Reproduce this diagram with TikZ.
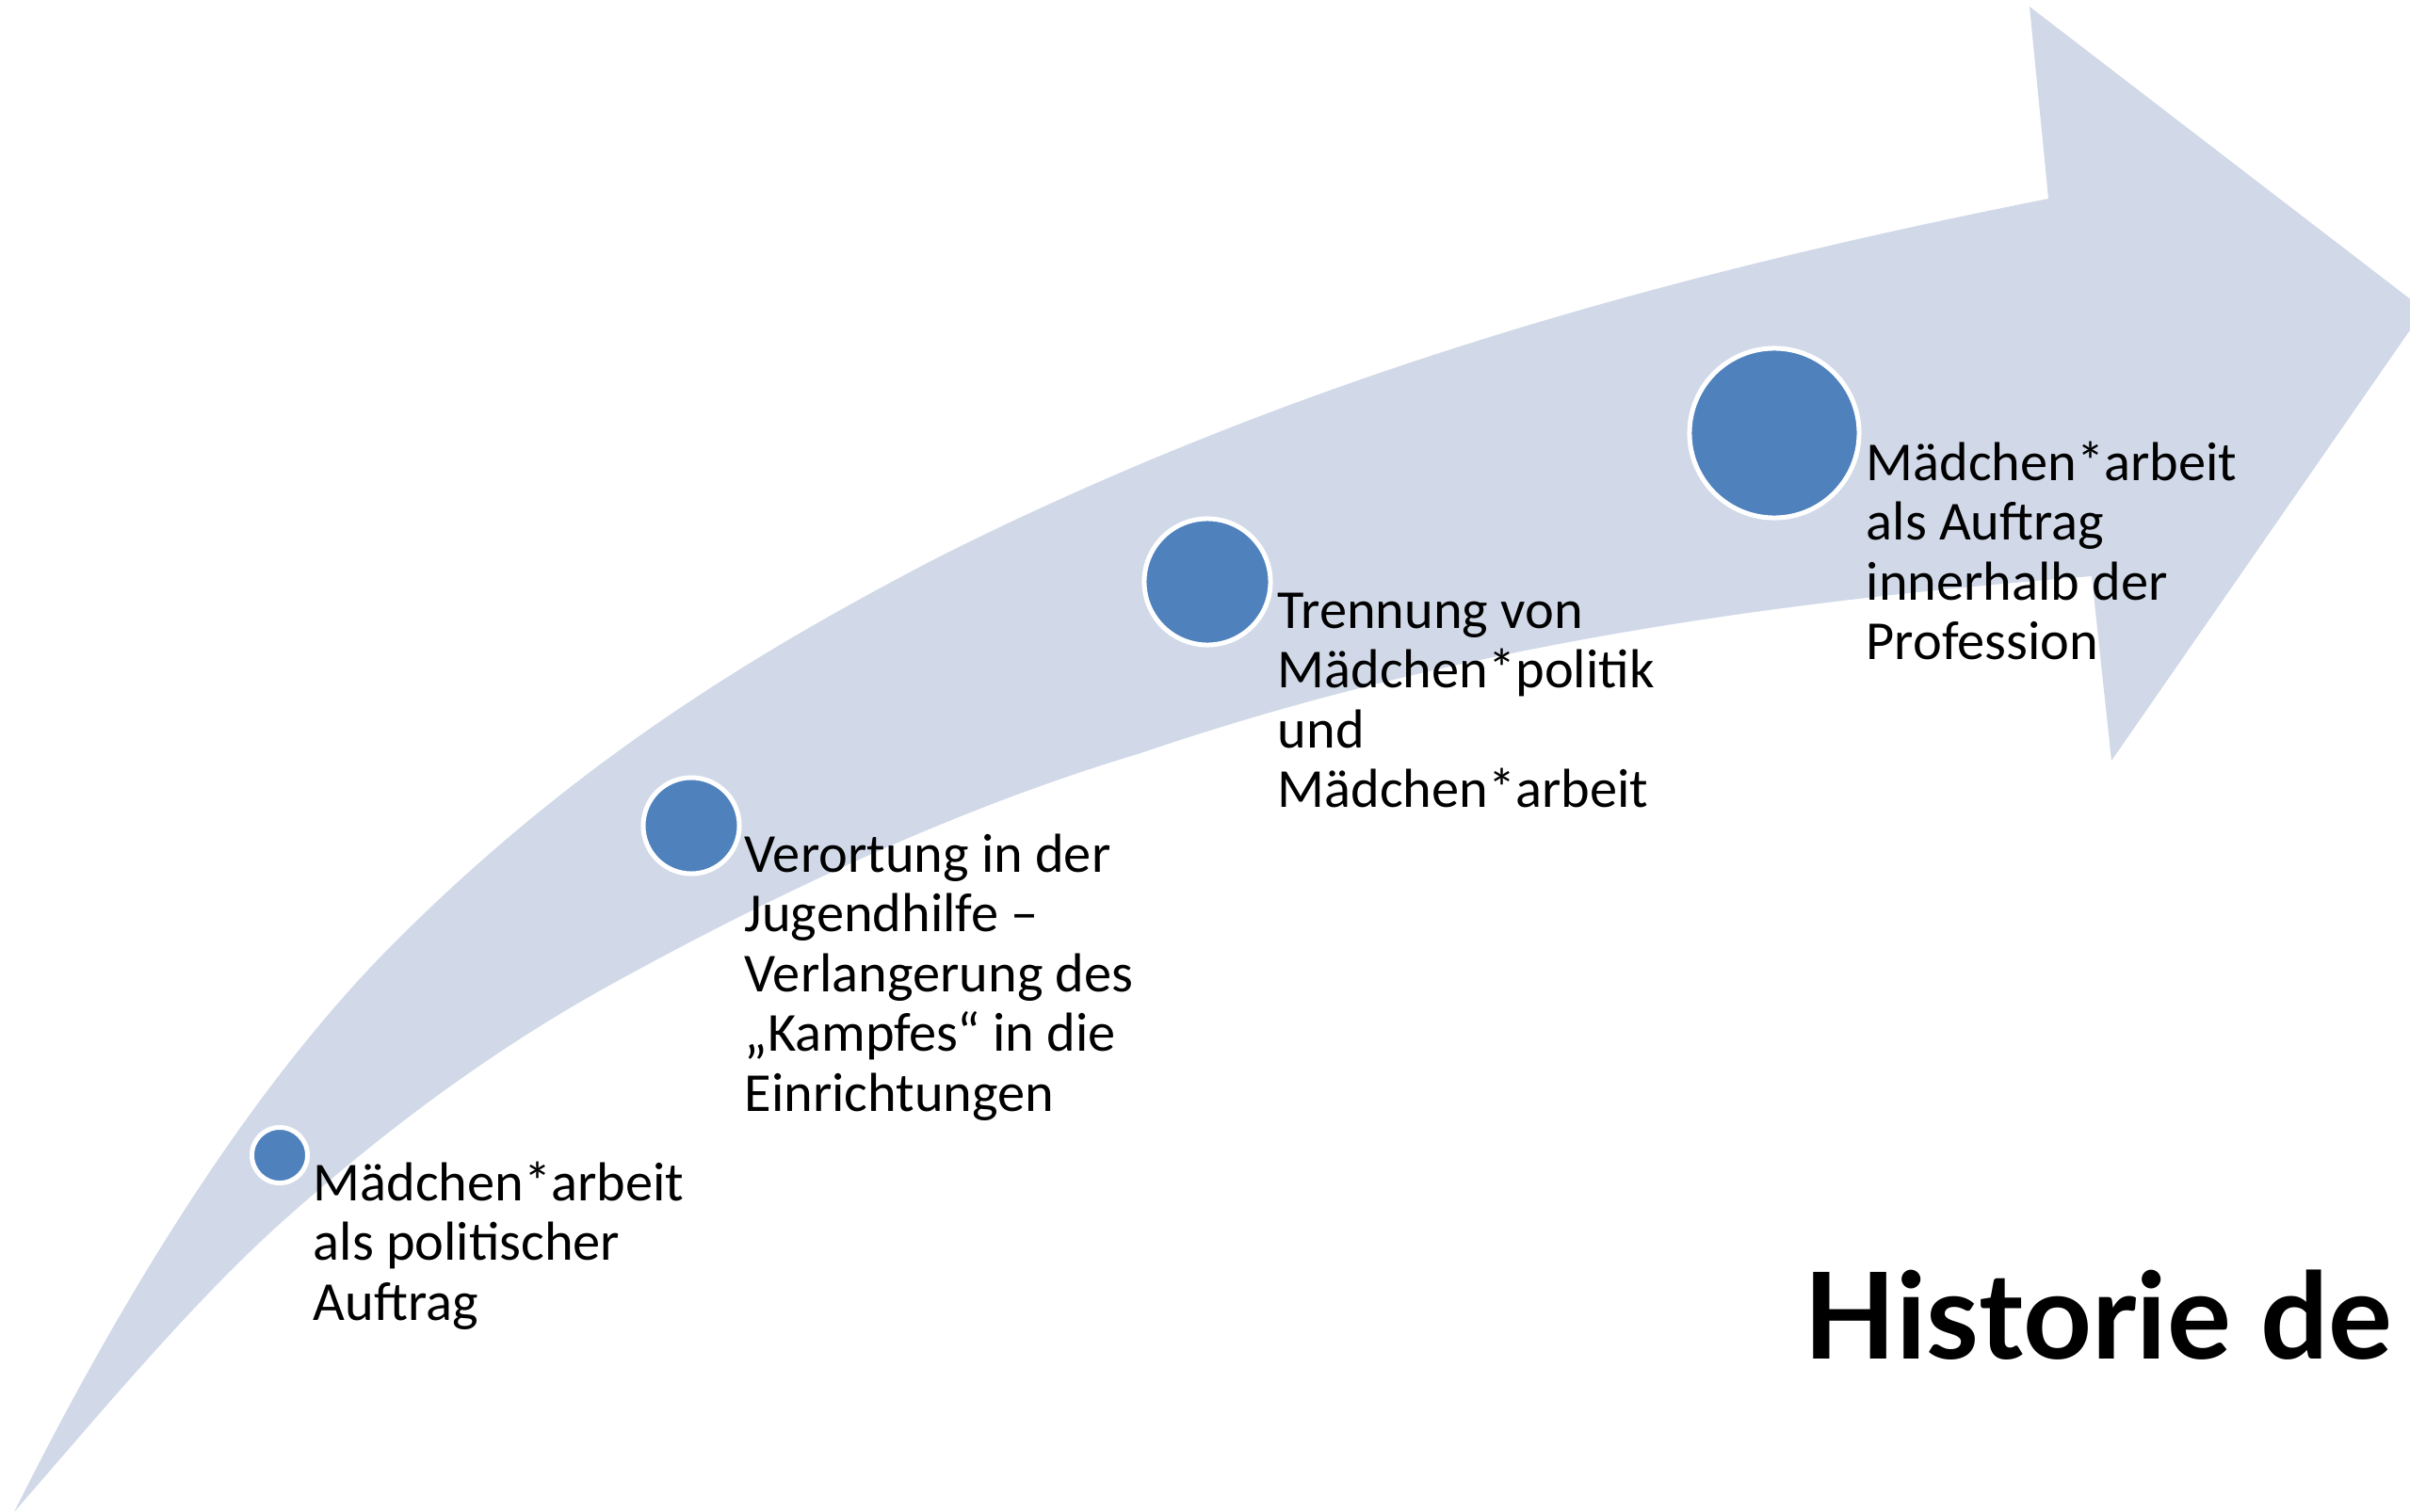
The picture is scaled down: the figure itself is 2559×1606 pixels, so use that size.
\documentclass[tikz,border=0pt]{standalone}
\usepackage{fontspec}
\setmainfont{Carlito}
\newfontfamily\titlefont{Lato}
\definecolor{band}{RGB}{209,217,232}
\definecolor{dot}{RGB}{79,129,189}
\begin{document}
\begin{tikzpicture}[x=0.01cm,y=-0.01cm,
  dotnode/.style={circle, fill=dot, draw=white, line width=1.42pt, inner sep=0pt},
  lbl/.style={anchor=base west, inner sep=0pt, font=\fontsize{16.6pt}{18.07pt}\selectfont}]
\useasboundingbox (0,0) rectangle (2559,1606);
\clip (0,0) rectangle (2559,1606);
% outer edge: tail -> notch upper
\coordinate (tail) at (15,1606);
\coordinate (ob) at (420,1000);
\coordinate (oc) at (1000,590);
\coordinate (nup) at (2175,211);
\coordinate (barbup) at (2155,7);
\coordinate (tip) at (2574,329);
\coordinate (barblow) at (2242,808);
\coordinate (nlow) at (2221,612);
\coordinate (ie) at (1211,800);
\coordinate (if) at (650,1045);
\coordinate (ig) at (297,1300);
\fill[band] (tail) .. controls (150,1336) and (285,1135) .. (ob)
  .. controls (613,807) and (807,690) .. (oc)
  .. controls (1392,394) and (1783,289) .. (nup)
  -- (barbup) -- (tip) -- (barblow) -- (nlow)
  .. controls (1884,639) and (1548,685) .. (ie)
  .. controls (1024,856) and (837,942) .. (if)
  .. controls (532,1110) and (415,1194) .. (ig)
  .. controls (203,1385) and (109,1498) .. (tail) -- cycle;
\node[dotnode, minimum size=0.59cm] (c1) at (297,1227) {};
\node[dotnode, minimum size=1.02cm] (c2) at (734,877) {};
\node[dotnode, minimum size=1.34cm] (c3) at (1282,618) {};
\node[dotnode, minimum size=1.80cm] (c4) at (1884,460) {};
\node[lbl] (t1) at (332,1275) {\vtop{\lineskiplimit=-100pt\hbox{Mädchen*arbeit}\hbox{als politischer}\hbox{Auftrag}}};
\node[lbl] (t2) at (790,926) {\vtop{\lineskiplimit=-100pt\hbox{Verortung in der}\hbox{Jugendhilfe –}\hbox{Verlangerung des}\hbox{„Kampfes“ in die}\hbox{Einrichtungen}}};
\node[lbl] (t3) at (1356,667) {\vtop{\lineskiplimit=-100pt\hbox{Trennung von}\hbox{Mädchen*politik}\hbox{und}\hbox{Mädchen*arbeit}}};
\node[lbl] (t4) at (1981,510) {\vtop{\lineskiplimit=-100pt\hbox{Mädchen*arbeit}\hbox{als Auftrag}\hbox{innerhalb der}\hbox{Profession}}};
\node[anchor=base west, inner sep=0pt, font=\titlefont\bfseries\fontsize{36.2pt}{40pt}\selectfont] (title) at (1915,1443) {Historie de};
\end{tikzpicture}
\end{document}
